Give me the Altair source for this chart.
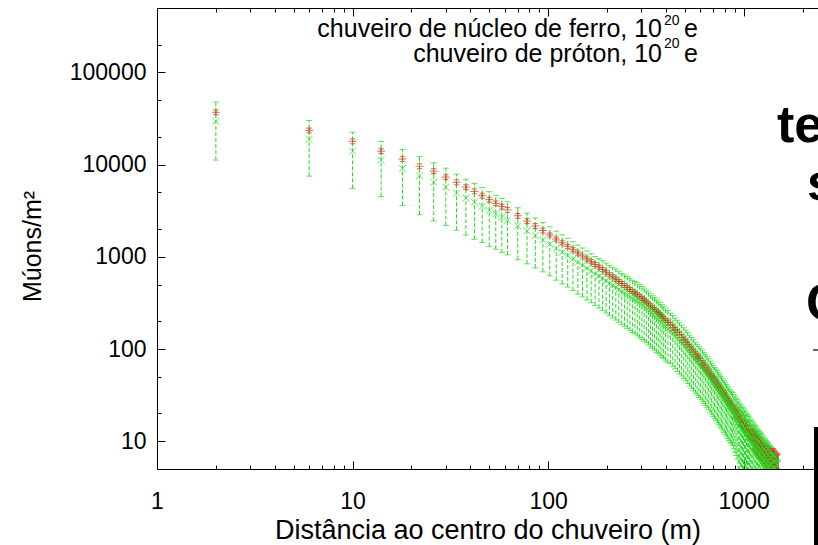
import altair as alt
import pandas as pd

# ---------------- data ----------------
distance = [2, 6, 10, 14, 18, 22, 26, 30, 34, 38, 42, 46, 50, 54, 58, 62,
            70, 78, 86, 94, 102, 110, 118, 126, 134, 142, 150, 158, 166, 174, 182, 190, 198, 206,
            214, 222, 230, 238, 246, 254, 262, 270, 278, 286, 294, 302, 310, 318, 326, 334, 342,
            350, 358, 366, 374, 382, 390, 398,
            410, 422, 434, 446, 458, 470, 482, 494, 506, 518, 530, 542, 554, 566, 578, 590, 602,
            614, 626, 638, 650, 662, 674, 686, 698, 710, 722, 734, 746, 758, 770, 782, 794, 806,
            818, 830, 842, 854, 866, 878, 890, 902, 914, 926, 938, 950, 962, 974, 986, 998, 1010,
            1022, 1034, 1046, 1058, 1070, 1082, 1094, 1106, 1118, 1130, 1142, 1154, 1166, 1178,
            1190, 1202, 1214, 1226, 1238, 1250, 1262, 1274, 1286, 1298, 1310, 1322, 1334, 1346,
            1358, 1370, 1382, 1394, 1406, 1418, 1430, 1442, 1454, 1466, 1478, 1490, 1502]

iron = [37000, 23500, 17900, 14000, 11500, 9600, 8500, 7330, 6430, 5710, 5130, 4610, 4170, 3810, 3510, 3230,
        2790, 2440, 2160, 1930, 1730, 1560, 1420, 1300, 1196, 1100,
        1021, 948, 885, 827, 775, 727, 683, 641, 606, 573,
        542, 513, 488, 464, 443, 423, 405, 388, 371, 354,
        339, 324, 309, 294, 281, 269, 258, 247, 236, 225, 215, 206,
        194, 182, 171, 161, 152, 143, 134, 126, 119, 112,
        105, 99, 93.3, 88, 83.4, 79, 74.4, 70, 66.4, 63,
        59.7, 56.5, 53.5, 50.6, 48.0,
        45.5, 43.2, 41.1, 39.0, 37.0, 35.3, 33.6, 32.0, 30.5, 29.1,
        27.7, 26.5, 25.3, 24.2, 23.2, 22.2,
        21.3, 20.4, 19.5, 18.7, 17.9, 17.2, 16.6, 16.0, 15.5, 14.9,
        14.4, 13.8, 13.3, 12.9, 12.5, 12.0, 11.6, 11.2,
        10.9, 10.5, 10.2, 9.9, 9.6, 9.3, 9.0, 8.8, 8.6, 8.3,
        8.05, 7.8, 7.6, 7.4, 7.2, 7.05,
        6.9, 6.7, 6.5, 6.35, 6.2, 6.05, 5.9, 5.75,
        5.6, 5.5, 5.4, 5.25, 5.1, 5.0, 4.9, 4.8, 4.7]

iron_err = [2220, 1410, 1070, 840, 690, 580, 510, 440, 390, 340, 310, 280, 250, 230, 210, 190,
            170, 150, 130, 116, 87, 78, 71, 65, 60, 55,
            51, 47, 44, 41, 39, 36, 34, 32, 30, 29,
            27, 26, 24, 23, 22, 21, 20, 19, 19, 18,
            17, 16, 15, 15, 14, 13, 13, 12, 12, 11, 11, 10,
            11.6, 12.7, 12.0, 11.3, 10.6, 10.0, 9.4, 8.8, 8.3, 7.8,
            7.4, 6.9, 6.5, 6.2, 5.8, 5.5, 5.2, 4.9, 4.6, 4.4,
            4.2, 4.0, 3.7, 3.5, 3.4,
            4.6, 4.3, 4.1, 3.9, 3.7, 3.5, 3.4, 3.2, 3.1, 2.9,
            2.8, 2.7, 2.5, 2.4, 2.3, 2.2,
            3.2, 3.1, 2.9, 2.8, 2.7, 2.6, 2.5, 2.4, 2.3, 2.2,
            2.2, 2.1, 2.0, 1.9, 1.9, 1.8, 1.7, 1.7,
            2.7, 2.6, 2.6, 2.5, 2.4, 2.3, 2.3, 2.2, 2.2, 2.1,
            2.0, 2.0, 1.9, 1.9, 1.8, 1.8,
            2.4, 2.3, 2.3, 2.2, 2.2, 2.1, 2.1, 2.0,
            2.8, 2.8, 2.7, 2.6, 2.6, 2.5, 2.5, 2.4, 2.4]

proton = [29500, 18800, 14000, 11200, 9100, 7580, 6470, 5680, 4900, 4350, 3910, 3530, 3190, 2930, 2700, 2500,
          2170, 1910, 1700, 1520, 1370, 1230, 1120, 1030, 945, 869,
          807, 749, 699, 653, 618, 586, 551, 517, 493, 471,
          446, 422, 405, 389, 371, 354, 343, 331, 317, 302,
          290, 277, 264, 251, 240, 230, 220, 211, 202, 192, 184, 176,
          166, 157, 148, 139, 131, 123, 116, 109, 103, 96.7,
          90.6, 85.4, 80.5, 75.9, 72.0, 68.2, 65.1, 62.0, 58.8, 55.8,
          52.9, 50.1, 47.4, 44.8, 42.5,
          40.3, 38.7, 37.1, 35.2, 33.4, 31.9, 30.3, 28.9, 27.5, 26.3,
          25.0, 23.9, 22.8, 22.1, 21.4, 20.3,
          19.3, 18.3, 17.4, 16.1, 14.8, 14.2, 13.7, 13.2, 12.8, 12.3,
          11.9, 11.4, 11.0, 10.7, 10.4, 9.9, 9.6, 9.3,
          9.0, 8.7, 8.4, 8.2, 7.9, 7.7, 7.5, 7.3, 7.1, 6.9,
          6.7, 6.5, 6.3, 6.1, 6.0, 5.8,
          5.7, 5.5, 5.4, 5.3, 5.1, 5.0, 4.9, 4.6,
          4.3, 4.3, 4.2, 4.1, 4.0, 3.8, 3.6, 3.6, 3.5]

proton_err = [18300, 11300, 8470, 6700, 5500, 4720, 4030, 3490, 2960, 2630, 2360, 2100, 1900, 1720, 1590, 1450,
              1240, 1070, 942, 832, 746, 672, 612, 560, 515, 474,
              440, 409, 381, 356, 340, 325, 305, 287, 276, 265,
              251, 238, 230, 222, 212, 203, 197, 192, 184, 175,
              168, 160, 153, 146, 139, 133, 128, 122, 117, 111, 106, 102,
              95, 88, 83, 78, 74, 69.5, 65.1, 61.2, 57.8, 54.4,
              51.0, 48.1, 45.3, 42.8, 40.5, 38.4, 36.6, 34.9, 33.1, 31.4,
              29.8, 28.2, 26.7, 25.2, 24.0,
              22.7, 21.9, 21.2, 20.1, 19.1, 18.2, 17.3, 16.5, 15.7, 15.0,
              14.3, 13.7, 13.1, 12.7, 12.4, 12.0,
              11.7, 11.3, 11.0, 11.2, 11.2, 10.8, 10.4, 10.0, 9.7, 9.4,
              9.0, 8.7, 8.4, 8.1, 7.9, 7.5, 7.3, 7.0,
              6.8, 6.6, 6.4, 6.2, 6.0, 5.8, 5.7, 5.5, 5.4, 5.2,
              5.1, 4.9, 4.8, 4.6, 4.5, 4.4,
              4.3, 4.2, 4.1, 4.0, 3.9, 3.8, 3.7, 3.45,
              3.2, 3.2, 3.1, 3.0, 2.9, 2.8, 2.7, 2.6, 2.5]

x_major = [1, 10, 100, 1000]
x_minor = [2, 3, 4, 5, 6, 7, 8, 9, 20, 30, 40, 50, 60, 70, 80, 90,
           200, 300, 400, 500, 600, 700, 800, 900, 2000]
y_major = [10, 100, 1000, 10000, 100000]
y_minor = [20, 50, 200, 500, 2000, 5000, 20000, 50000, 200000]

x_title = "Distância ao centro do chuveiro (m)"
y_title = "Múons/m²"
legend_iron = "chuveiro de núcleo de ferro, 10"
legend_proton = "chuveiro de próton, 10"
legend_exp = "20"
legend_unit = "e"
slide_words = ["te", "s", "C"]

# ---------------- table ----------------
df = pd.DataFrame({"d": distance, "fe": iron, "fe_err": iron_err,
                   "p": proton, "p_err": proton_err})
df["fe_lo"] = df["fe"] - df["fe_err"]
df["fe_hi"] = df["fe"] + df["fe_err"]
df["p_lo"] = df["p"] - df["p_err"]
df["p_hi"] = df["p"] + df["p_err"]

FONT = "Liberation Sans"
RED = "#dd2211"
GREEN = "#22dd22"
BLACK = "#000000"

xs = alt.Scale(type="log", domain=[1, 2400])
ys = alt.Scale(type="log", domain=[5, 500000])

base = alt.Chart(df)

main_x_axis = alt.Axis(orient="bottom", values=x_major, format="d", ticks=False, tickSize=0,
                       domain=True, domainColor=BLACK, domainWidth=1, labelFontSize=23,
                       labelPadding=21, labelFlush=False, labelOverlap=False,
                       title=x_title, titleFontSize=27, titleY=69,
                       titleBaseline="alphabetic", grid=False)
main_y_axis = alt.Axis(orient="left", values=y_major, format="d", ticks=False, tickSize=0,
                       domain=True, domainColor=BLACK, domainWidth=1, labelFontSize=23,
                       labelPadding=11, labelFlush=False, labelOverlap=False,
                       title=y_title, titleFontSize=25, titleAngle=270, titleX=-117, titleY=238,
                       titleAlign="center", titleBaseline="alphabetic", grid=False)

NOX = alt.X("d:Q", scale=xs, axis=None)

# iron (red)
red_bars = base.mark_rule(color=RED, strokeWidth=1, clip=True).encode(
    x=alt.X("d:Q", scale=xs, axis=main_x_axis),
    y=alt.Y("fe_lo:Q", scale=ys, axis=main_y_axis),
    y2="fe_hi:Q")
red_cap_hi = base.mark_point(shape="M-1,0L1,0", size=30, color=RED, filled=False,
                             strokeWidth=1, clip=True).encode(
    x=NOX, y=alt.Y("fe_hi:Q", scale=ys, axis=None))
red_cap_lo = base.mark_point(shape="M-1,0L1,0", size=30, color=RED, filled=False,
                             strokeWidth=1, clip=True).encode(
    x=NOX, y=alt.Y("fe_lo:Q", scale=ys, axis=None))
red_pts = base.mark_point(shape="M-1,0L1,0M0,-1L0,1", size=64, color=RED, filled=False,
                          strokeWidth=1, clip=True).encode(
    x=NOX, y=alt.Y("fe:Q", scale=ys, axis=None))

# proton (green)
green_bars = base.mark_rule(color=GREEN, strokeWidth=1, strokeDash=[4, 2], clip=True).encode(
    x=NOX, y=alt.Y("p_lo:Q", scale=ys, axis=None), y2="p_hi:Q")
green_cap_hi = base.mark_point(shape="M-1,0L1,0", size=36, color=GREEN, filled=False,
                               strokeWidth=1, clip=True).encode(
    x=NOX, y=alt.Y("p_hi:Q", scale=ys, axis=None))
green_cap_lo = base.mark_point(shape="M-1,0L1,0", size=36, color=GREEN, filled=False,
                               strokeWidth=1, clip=True).encode(
    x=NOX, y=alt.Y("p_lo:Q", scale=ys, axis=None))
green_pts = base.mark_point(shape="M-1,-1L1,1M-1,1L1,-1", size=49, color=GREEN, filled=False,
                            strokeWidth=1, clip=True).encode(
    x=NOX, y=alt.Y("p:Q", scale=ys, axis=None))


# inward ticks (gnuplot style frame)
def x_ticks(orient, values, size):
    return base.mark_point(opacity=0).encode(
        x=alt.X("d:Q", scale=xs, axis=alt.Axis(
            orient=orient, values=values, labels=False, domain=False,
            ticks=True, tickSize=size, offset=-size, tickColor=BLACK, tickWidth=1,
            grid=False, title=None)),
        y=alt.Y("fe:Q", scale=ys, axis=None))


def y_ticks(values, size):
    return base.mark_point(opacity=0).encode(
        x=NOX,
        y=alt.Y("fe:Q", scale=ys, axis=alt.Axis(
            orient="left", values=values, labels=False, domain=False,
            ticks=True, tickSize=size, offset=-size, tickColor=BLACK, tickWidth=1,
            grid=False, title=None)))


top_frame = base.mark_point(opacity=0).encode(
    x=alt.X("d:Q", scale=xs, axis=alt.Axis(
        orient="top", values=x_major, labels=False, domain=True, domainColor=BLACK,
        domainWidth=1, ticks=False, grid=False, title=None)),
    y=alt.Y("fe:Q", scale=ys, axis=None))

tick_layers = [
    x_ticks("bottom", x_major, 8), x_ticks("bottom", x_minor, 4),
    x_ticks("top", x_major, 8), x_ticks("top", x_minor, 4),
    y_ticks(y_major, 8), y_ticks(y_minor, 4), top_frame,
]


# legend text and slide overlay
def label(text, x, y, size, align="left", weight="normal"):
    return alt.Chart(pd.DataFrame({"t": [text]})).mark_text(
        align=align, baseline="alphabetic", font=FONT, fontSize=size,
        fontWeight=weight, color=BLACK, clip=False).encode(
        x=alt.value(x), y=alt.value(y), text="t:N")


legend = [
    label(legend_iron, 505, 29, 25, "right"),
    label(legend_exp, 507, 17, 14),
    label(legend_unit, 527, 29, 25),
    label(legend_proton, 505, 54, 25, "right"),
    label(legend_exp, 507, 40, 14),
    label(legend_unit, 527, 54, 25),
]

overlay = [
    label(slide_words[0], 620, 134, 52, weight="bold"),
    label(slide_words[1], 650, 192, 52, weight="bold"),
    label(slide_words[2], 649, 312, 52, weight="bold"),
    alt.Chart(pd.DataFrame({"k": [0]})).mark_rule(color="#333333", strokeWidth=1.5).encode(
        x=alt.value(656), x2=alt.value(664), y=alt.value(342)),
    alt.Chart(pd.DataFrame({"k": [0]})).mark_rect(
        fill="white", stroke=BLACK, strokeWidth=4, clip=False).encode(
        x=alt.value(659), x2=alt.value(720), y=alt.value(421), y2=alt.value(600)),
]

chart = alt.layer(
    red_bars, *tick_layers, red_cap_hi, red_cap_lo, red_pts,
    green_bars, green_cap_hi, green_cap_lo, green_pts,
    *legend, *overlay,
).resolve_axis(x="independent", y="independent").properties(
    width=661, height=461,
    autosize=alt.AutoSizeParams(type="none"),
    padding={"left": 157, "top": 8, "right": 0, "bottom": 76},
    background="white",
).configure_view(stroke=None).configure_axis(
    labelFont=FONT, titleFont=FONT, labelColor=BLACK, titleColor=BLACK,
    titleFontWeight="normal", grid=False,
)

chart.save("out.html", embed_options={"renderer": "svg", "actions": False})
